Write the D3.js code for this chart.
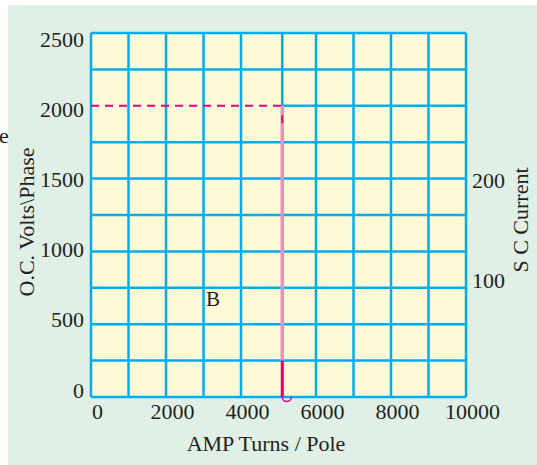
<!DOCTYPE html>
<html>
<head>
<meta charset="utf-8">
<script src="https://cdn.jsdelivr.net/npm/d3@7"></script>
<style>
  body { margin: 0; background: #fff; }
  text { font-family: "Liberation Serif", "Times New Roman", serif; fill: #231f20; }
</style>
</head>
<body>
<svg id="chart"></svg>
<script>
// values
const ocTicks = [0, 500, 1000, 1500, 2000, 2500];
const ampTicks = [0, 2000, 4000, 6000, 8000, 10000];
const scTicks = [100, 200];
const gridCols = [0, 1000, 2000, 3000, 4000, 5100, 6000, 7000, 8000, 9000, 10000];
const gridRows = [0, 250, 500, 750, 1000, 1250, 1500, 1750, 2250, 2500];
const rowPartial = [{v: 2000, from: 5100, to: 10000}];
const ocDashed = [[0, 2000], [5100, 2000]];
const scUpper = [[5100, 2000], [5100, 250]];
const scLower = [[5100, 250], [5100, 0]];

const config = {
  width: 537, height: 465,
  margin: {top: 33, right: 71, bottom: 68, left: 91}
};

const svg = d3.select('#chart')
    .attr('width', config.width)
    .attr('height', config.height);

// page background (white strip at left and top like the scan)
svg.append('rect')
    .attr('x', 8).attr('y', 5)
    .attr('width', config.width - 8).attr('height', config.height - 5)
    .attr('fill', '#e1f0e6');

const w = config.width - config.margin.left - config.margin.right;
const h = config.height - config.margin.top - config.margin.bottom;

const chart = svg.append('g')
    .attr('transform', `translate(${config.margin.left},${config.margin.top})`);

const x = d3.scaleLinear().domain([0, 10000]).range([0, w]);
const y = d3.scaleLinear().domain([0, 2500]).range([h, 0]);
// S C current axis: 100 units per 100px, 0 sits a bit above the bottom
const yR = d3.scaleLinear().domain([-17, h - 17]).range([h, 0]);
// tick labels are set slightly inside the grid ends in the picture
const yLab = d3.scaleLinear().domain([0, 2500]).range([h - 7, 6]);

chart.append('rect')
    .attr('width', w).attr('height', h)
    .attr('fill', '#fef9d7');

const blue = '#00aeef';

chart.selectAll('.col')
    .data(gridCols)
    .join('line')
    .attr('class', 'col')
    .attr('x1', d => x(d)).attr('x2', d => x(d))
    .attr('y1', 0).attr('y2', h)
    .attr('stroke', blue).attr('stroke-width', 2.5);

chart.selectAll('.row')
    .data(gridRows)
    .join('line')
    .attr('class', 'row')
    .attr('x1', 0).attr('x2', w)
    .attr('y1', d => y(d)).attr('y2', d => y(d))
    .attr('stroke', blue).attr('stroke-width', 2.5);

chart.selectAll('.rowPart')
    .data(rowPartial)
    .join('line')
    .attr('class', 'rowPart')
    .attr('x1', d => x(d.from)).attr('x2', d => x(d.to))
    .attr('y1', d => y(d.v)).attr('y2', d => y(d.v))
    .attr('stroke', blue).attr('stroke-width', 2.5);

const line = d3.line().x(d => x(d[0])).y(d => y(d[1]));

chart.append('path')
    .attr('d', line(ocDashed))
    .attr('fill', 'none')
    .attr('stroke', '#e6007e')
    .attr('stroke-width', 2)
    .attr('stroke-dasharray', '8,6');

chart.append('path')
    .attr('d', line(scUpper))
    .attr('fill', 'none')
    .attr('stroke', '#f08cc1')
    .attr('stroke-width', 3.5);

chart.append('path')
    .attr('d', line(scLower))
    .attr('fill', 'none')
    .attr('stroke', '#e6007e')
    .attr('stroke-width', 3);

// little hook at the foot of the S C line
const fx = x(scLower[1][0]), fy = y(scLower[1][1]);
chart.append('path')
    .attr('d', `M${fx},${fy} a4.5,4.5 0 0 0 9,0`)
    .attr('fill', 'none')
    .attr('stroke', '#e6007e')
    .attr('stroke-width', 1.5);

// dark fleck near the top of the S C line
chart.append('path')
    .attr('d', line([[5100, 1935], [5100, 1880]]))
    .attr('stroke', '#c8197a')
    .attr('stroke-width', 2);

// axes (labels only, the grid frames the plot)
const fmt = d3.format('d');

const yAxisG = chart.append('g')
    .attr('transform', 'translate(-7,0)')
    .call(d3.axisLeft(yLab).tickValues(ocTicks).tickSize(0).tickPadding(0).tickFormat(fmt))
    .call(g => g.select('.domain').remove());

const xAxisG = chart.append('g')
    .attr('transform', `translate(6,${h + 6})`)
    .call(d3.axisBottom(x).tickValues(ampTicks).tickSize(0).tickPadding(0).tickFormat(fmt))
    .call(g => g.select('.domain').remove());

const yRAxisG = chart.append('g')
    .attr('transform', `translate(${w + 6},0)`)
    .call(d3.axisRight(yR).tickValues(scTicks).tickSize(0).tickPadding(0).tickFormat(fmt))
    .call(g => g.select('.domain').remove());

[yAxisG, xAxisG, yRAxisG].forEach(g => g
    .attr('font-family', null)
    .attr('font-size', null));

chart.selectAll('.tick text')
    .style('font-family', '"Liberation Serif", serif')
    .style('font-size', '22px')
    .style('fill', '#231f20');

// axis titles
svg.append('text')
    .attr('transform', 'translate(34,222) rotate(-90)')
    .style('text-anchor', 'middle')
    .style('font-size', '22px')
    .text('O.C. Volts\\Phase');

svg.append('text')
    .attr('transform', 'translate(528,220) rotate(-90)')
    .style('text-anchor', 'middle')
    .style('font-size', '22px')
    .text('S C Current');

svg.append('text')
    .attr('x', 266).attr('y', 451)
    .style('text-anchor', 'middle')
    .style('font-size', '22px')
    .text('AMP Turns / Pole');

// stray letters on the figure
svg.append('text')
    .attr('x', 206).attr('y', 306)
    .style('font-size', '21px')
    .text('B');

svg.append('text')
    .attr('x', -1).attr('y', 143)
    .style('font-size', '22px')
    .text('e');
</script>
</body>
</html>
